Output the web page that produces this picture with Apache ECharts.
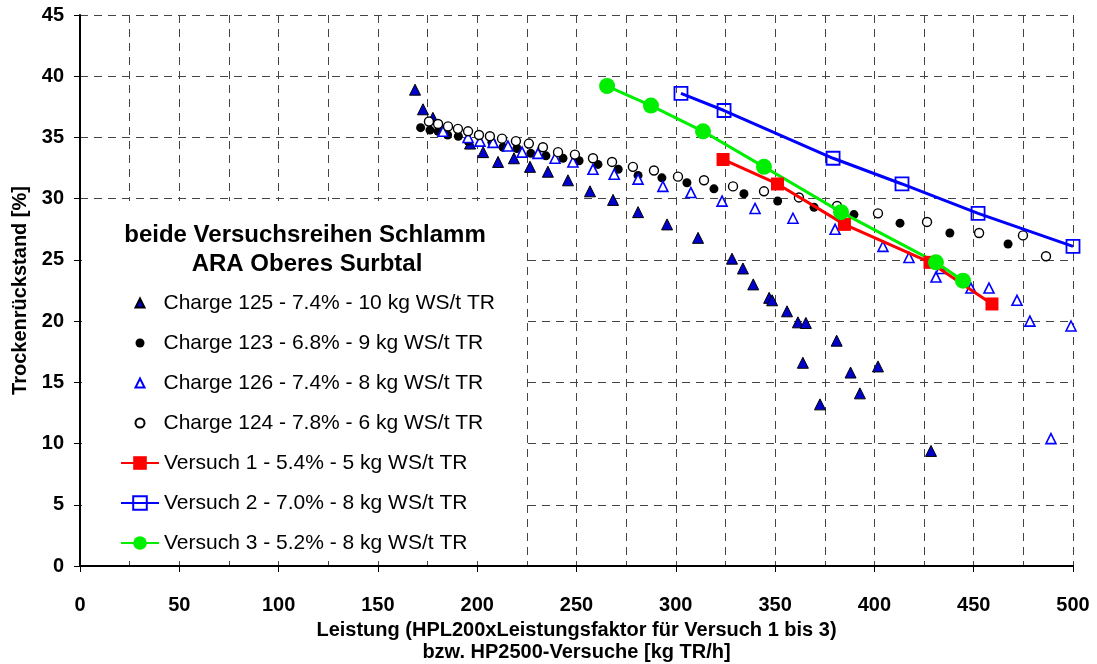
<!DOCTYPE html>
<html>
<head>
<meta charset="utf-8">
<script src="https://cdn.jsdelivr.net/npm/echarts@6/dist/echarts.min.js"></script>
<style>
  html, body { margin: 0; padding: 0; background: #fff; }
  #chart { width: 1097px; height: 664px; }
</style>
</head>
<body>
<div id="chart"></div>
<script>
// Leistung [kg TR/h] vs. Trockenrückstand [%], pairs of [x, y]
const charge125 = [[168.7,38.9],[172.7,37.3],[177.7,36.6],[196.4,34.5],[203,33.8],[210.5,33.0],[218.5,33.3],[226.6,32.6],[235.6,32.2],[245.7,31.5],[256.8,30.6],[268.4,29.9],[281,28.9],[295.6,27.9],[311.2,26.8],[328.3,25.1],[333.8,24.3],[339,23.0],[347,21.9],[348.5,21.7],[356,20.8],[361.5,19.9],[365.5,19.85],[381,18.4],[364,16.6],[372.6,13.2],[388,15.8],[392.7,14.1],[401.8,16.3],[428.5,9.4]];
const charge123 = [[171.5,35.8],[176.2,35.6],[180.3,35.5],[185.1,35.2],[190.5,35.1],[195.4,34.7],[207.4,34.6],[213,34.2],[220,34.1],[227,33.7],[234.6,33.5],[243.2,33.3],[251.3,33.1],[260.8,32.8],[271,32.4],[281,31.9],[293,31.7],[305.6,31.3],[319.2,30.8],[334.3,30.4],[351.3,29.8],[369.6,29.3],[389.7,28.7],[412.9,28.0],[438,27.2],[467.3,26.3]];
const charge126 = [[182.8,35.5],[195.4,35.0],[201.4,34.7],[208,34.6],[215.5,34.3],[222.6,33.8],[230.6,33.7],[239.2,33.3],[248.2,33.0],[258.3,32.4],[269,32.0],[281,31.6],[293.5,31.0],[307.6,30.5],[323.3,29.8],[339.9,29.2],[359,28.4],[380.2,27.5],[404.3,26.1],[417.4,25.2],[431,23.6],[433.5,24.3],[448.6,22.7],[457.7,22.7],[471.8,21.7],[478.3,20.0],[499,19.6],[488.9,10.4]];
const charge124 = [[175.7,36.3],[180.3,36.1],[185.3,35.9],[190.3,35.7],[195.4,35.5],[200.9,35.2],[206.4,35.1],[212.5,34.9],[219.5,34.7],[226,34.5],[233.1,34.2],[240.7,33.8],[249.2,33.6],[258.3,33.3],[267.9,33.0],[278.4,32.6],[289,32.3],[301.1,31.8],[314.2,31.5],[328.8,31.0],[344.4,30.6],[362,30.1],[381.2,29.4],[401.8,28.8],[426.5,28.1],[452.7,27.2],[474.8,27.0],[486.4,25.3]];
const versuch1 = [[323.8,33.2],[351.2,31.2],[384.9,27.9],[428,24.8],[459.2,21.4]];
const versuch2 = [[302.6,38.6],[324.3,37.2],[379.2,33.3],[413.9,31.2],[452.2,28.8],[500,26.1]];
const versuch3 = [[265.4,39.2],[287.5,37.6],[313.7,35.5],[344.4,32.6],[383.2,28.9],[431,24.8],[444.6,23.3]];

const seriesNames = [
  'Charge 125 - 7.4% - 10 kg WS/t TR',
  'Charge 123 - 6.8% - 9 kg WS/t TR',
  'Charge 126 - 7.4% - 8 kg WS/t TR',
  'Charge 124 - 7.8% - 6 kg WS/t TR',
  'Versuch 1 - 5.4% - 5 kg WS/t TR',
  'Versuch 2 - 7.0% - 8 kg WS/t TR',
  'Versuch 3 - 5.2% - 8 kg WS/t TR'
];
const legendTitle = ['beide Versuchsreihen Schlamm', 'ARA Oberes Surbtal'];
const xName = 'Leistung (HPL200xLeistungsfaktor für Versuch 1 bis 3)\nbzw. HP2500-Versuche [kg TR/h]';
const yName = 'Trockenrückstand [%]';

const FONT = "'Liberation Sans', Arial, sans-serif";
const gridDash = { type: [8, 6], color: '#444', width: 1 };

const chart = echarts.init(document.getElementById('chart'), null, { renderer: 'canvas' });

chart.setOption({
  backgroundColor: '#fff',
  animation: false,
  textStyle: { fontFamily: FONT },
  grid: { left: 80, right: 24, top: 15, bottom: 98, containLabel: false, outerBoundsMode: 'none' },
  xAxis: {
    type: 'value', min: 0, max: 500, interval: 50,
    name: xName, nameLocation: 'middle', nameGap: 45,
    nameTextStyle: { fontSize: 20, fontWeight: 'bold', color: '#000', lineHeight: 22, fontFamily: FONT },
    axisLine: { show: true, onZero: false, lineStyle: { color: '#000', width: 2 } },
    axisTick: { show: true, length: 6, lineStyle: { color: '#000', width: 1 } },
    axisLabel: { fontSize: 20, fontWeight: 'bold', color: '#000', margin: 29, fontFamily: FONT },
    splitLine: { show: true, lineStyle: gridDash },
    minorTick: { show: false, splitNumber: 2 },
    minorSplitLine: { show: true, lineStyle: gridDash }
  },
  yAxis: {
    type: 'value', min: 0, max: 45, interval: 5,
    name: yName, nameLocation: 'middle', nameGap: 49, nameRotate: 90,
    nameTextStyle: { fontSize: 20, fontWeight: 'bold', color: '#000', fontFamily: FONT },
    axisLine: { show: true, onZero: false, lineStyle: { color: '#000', width: 2 } },
    axisTick: { show: true, length: 6, lineStyle: { color: '#000', width: 1 } },
    axisLabel: { fontSize: 20, fontWeight: 'bold', color: '#000', margin: 16, fontFamily: FONT },
    splitLine: { show: true, lineStyle: gridDash }
  },
  graphic: [
    { type: 'rect', z: 1, shape: { x: 82, y: 201, width: 443, height: 358 }, style: { fill: '#fff' } },
    { type: 'text', z: 5, x: 305, y: 235, style: { text: legendTitle[0], fontSize: 24, fontWeight: 'bold', fontFamily: FONT, fill: '#000', align: 'center', verticalAlign: 'middle' } },
    { type: 'text', z: 5, x: 307, y: 264, style: { text: legendTitle[1], fontSize: 24, fontWeight: 'bold', fontFamily: FONT, fill: '#000', align: 'center', verticalAlign: 'middle' } }
  ],
  legend: [
    {
      data: seriesNames.slice(0, 4), orient: 'vertical', left: 134.5, top: 291, padding: 0,
      itemWidth: 9, itemHeight: 9, itemGap: 16, selectedMode: false, symbolKeepAspect: true,
      textStyle: { fontSize: 21, color: '#000', lineHeight: 24, fontFamily: FONT, padding: [0, 0, 0, 14] }
    },
    {
      data: seriesNames.slice(4), orient: 'vertical', left: 120, top: 451, padding: 0,
      itemWidth: 38, itemHeight: 17, itemGap: 16, selectedMode: false,
      textStyle: { fontSize: 21, color: '#000', lineHeight: 24, fontFamily: FONT }
    }
  ],
  series: [
    { name: seriesNames[0], type: 'scatter', data: charge125, symbol: 'triangle', symbolSize: 11,
      itemStyle: { color: '#0000cc', borderColor: '#000', borderWidth: 1, opacity: 1 } },
    { name: seriesNames[1], type: 'scatter', data: charge123, symbol: 'circle', symbolSize: 9,
      itemStyle: { color: '#000', borderColor: '#000', borderWidth: 0, opacity: 1 } },
    { name: seriesNames[2], type: 'scatter', data: charge126, symbol: 'triangle', symbolSize: 10,
      itemStyle: { color: '#fff', borderColor: '#0000ff', borderWidth: 1.6, opacity: 1 } },
    { name: seriesNames[3], type: 'scatter', data: charge124, symbol: 'circle', symbolSize: 9,
      itemStyle: { color: '#fff', borderColor: '#000', borderWidth: 1.4, opacity: 1 } },
    { name: seriesNames[4], type: 'line', data: versuch1, symbol: 'rect', symbolSize: 13,
      lineStyle: { color: '#ff0000', width: 3 }, itemStyle: { color: '#ff0000', borderWidth: 0 } },
    { name: seriesNames[5], type: 'line', data: versuch2, symbol: 'rect', symbolSize: 13,
      lineStyle: { color: '#0000ff', width: 3 }, itemStyle: { color: 'rgba(0,0,0,0)', borderColor: '#0000ff', borderWidth: 1.8 } },
    { name: seriesNames[6], type: 'line', data: versuch3, symbol: 'circle', symbolSize: 16,
      lineStyle: { color: '#00ee00', width: 3 }, itemStyle: { color: '#00ee00', borderWidth: 0 } }
  ]
});
</script>
</body>
</html>
